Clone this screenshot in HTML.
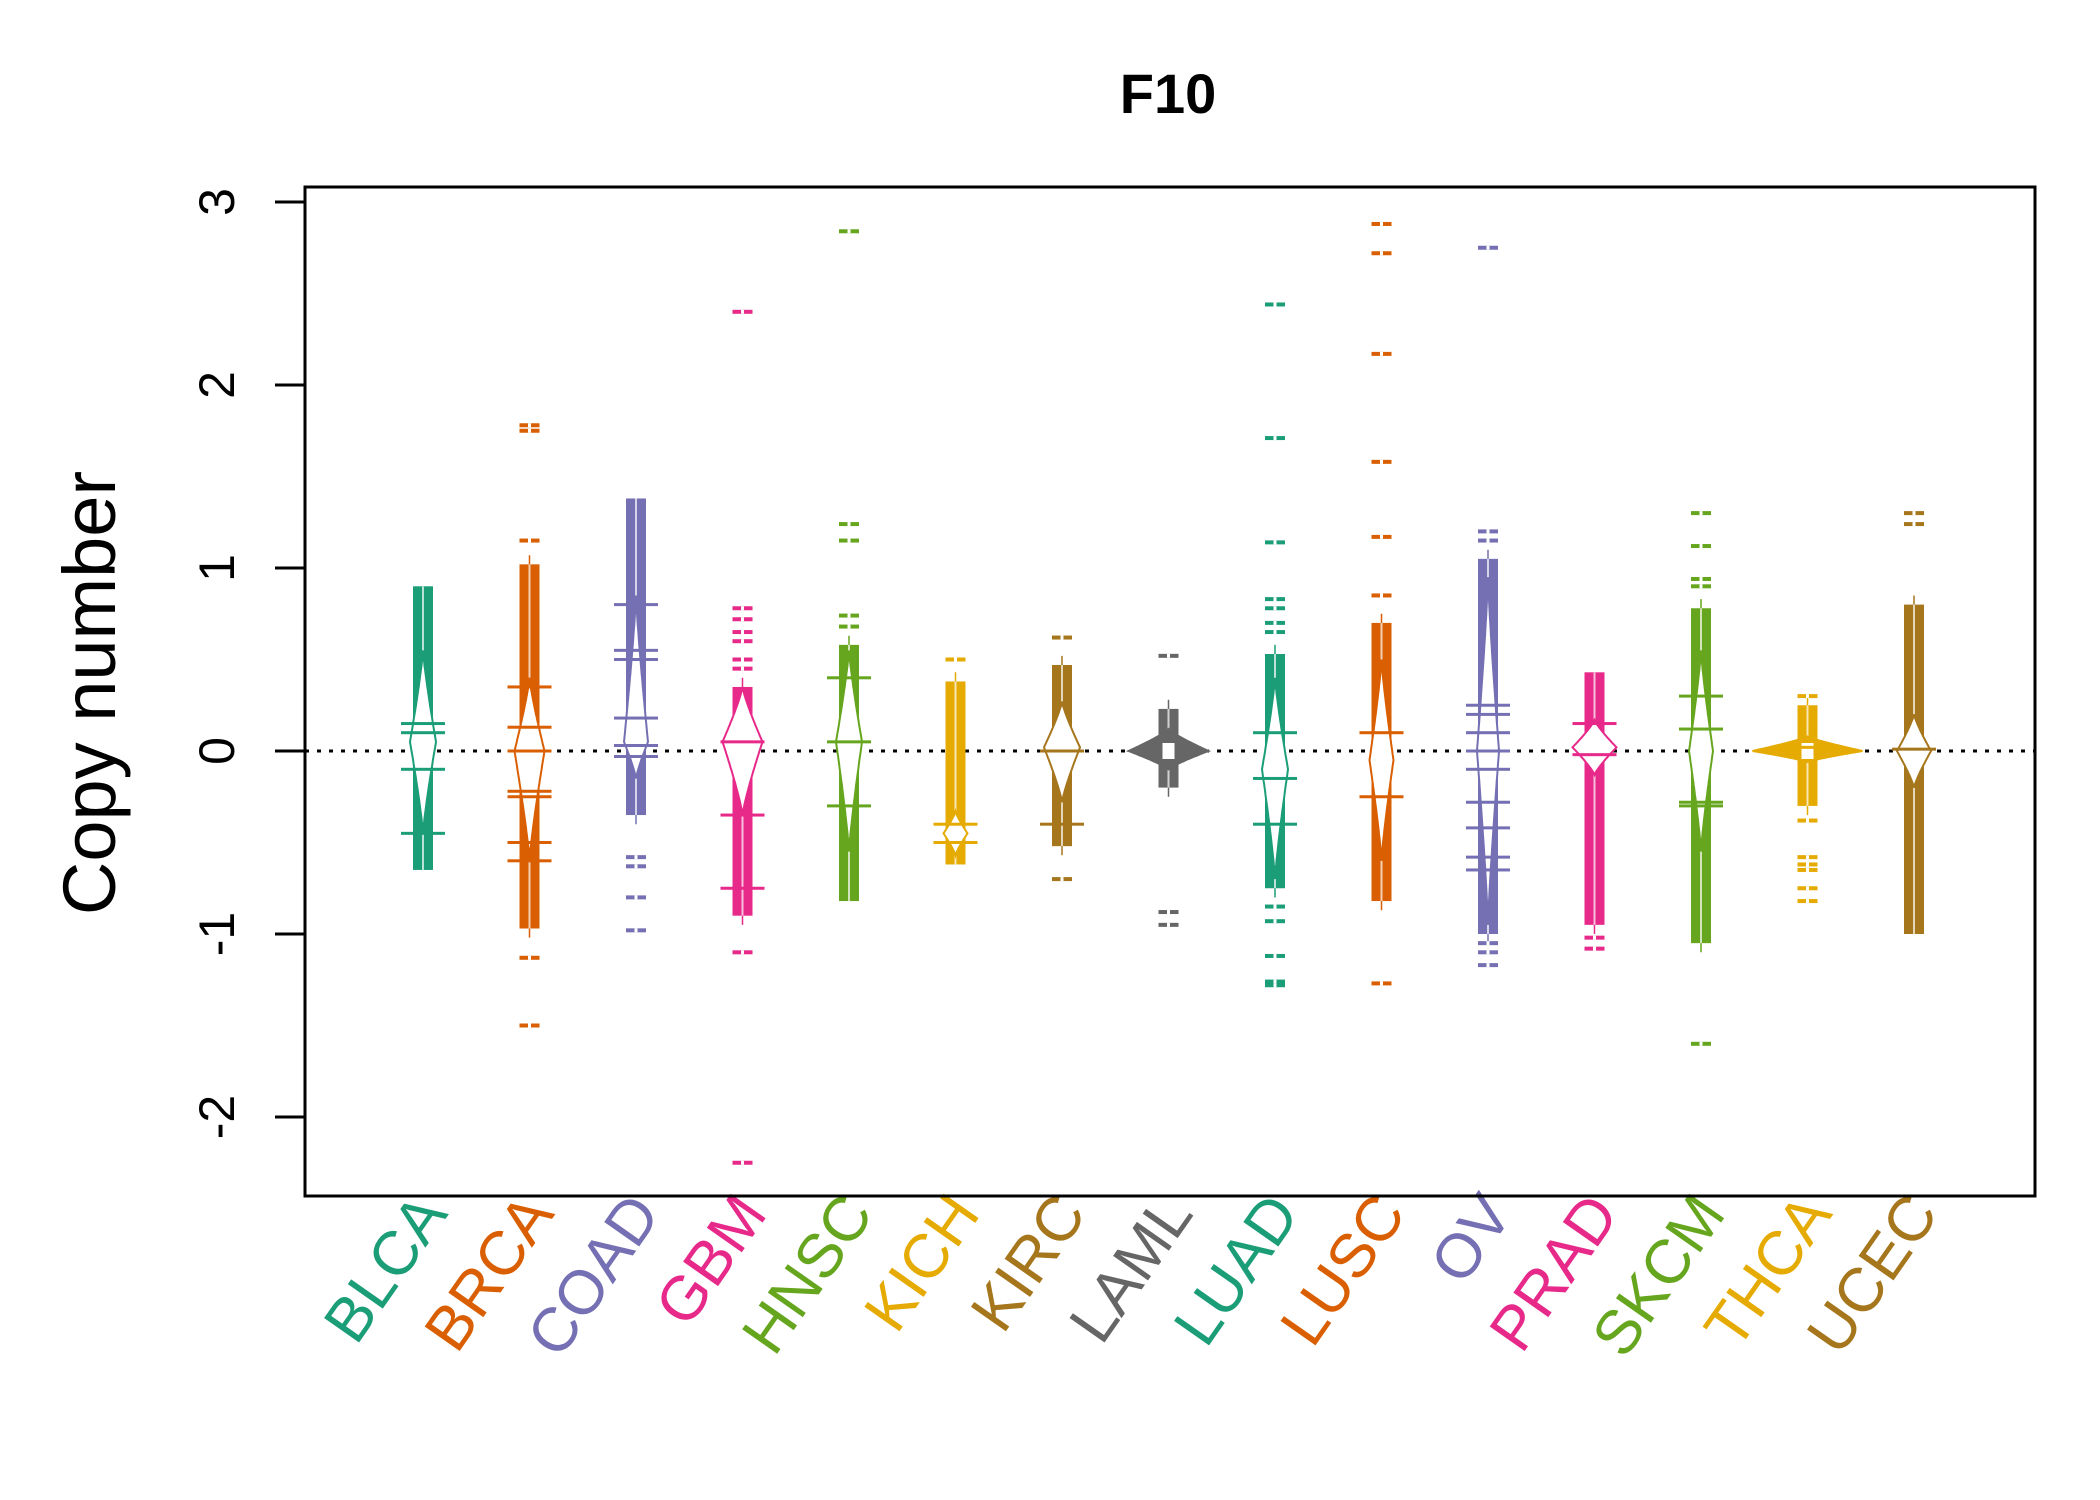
<!DOCTYPE html>
<html><head><meta charset="utf-8">
<style>
html,body{margin:0;padding:0;background:#fff;}
svg{display:block;font-family:"Liberation Sans",sans-serif;}
</style></head>
<body>
<svg id="chart" width="2100" height="1500" viewBox="0 0 2100 1500" xmlns="http://www.w3.org/2000/svg">
<rect x="0" y="0" width="2100" height="1500" fill="#fff"/>
<text x="1168" y="113" font-size="56" font-weight="bold" text-anchor="middle">F10</text>
<text transform="translate(115,693) rotate(-90)" font-size="74" text-anchor="middle">Copy number</text>
<g id="ticks"></g>
<line x1="305" x2="2035" y1="751" y2="751" stroke="#000" stroke-width="3" stroke-dasharray="4,8"/>
<g id="beans"></g>
<g id="xlabels"></g>
<rect x="305" y="187" width="1730" height="1009" fill="none" stroke="#000" stroke-width="3"/>
</svg>
<script>
const cats = ["BLCA","BRCA","COAD","GBM","HNSC","KICH","KIRC","LAML","LUAD","LUSC","OV","PRAD","SKCM","THCA","UCEC"];
const colors = ["#1B9E77","#D95F02","#7570B3","#E7298A","#66A61E","#E6AB02","#A6761D","#666666","#1B9E77","#D95F02","#7570B3","#E7298A","#66A61E","#E6AB02","#A6761D"];
const colHi = [0.9,1.02,1.38,0.35,0.58,0.38,0.47,0.23,0.53,0.7,1.05,0.43,0.78,0.25,0.8];
const colLo = [-0.65,-0.97,-0.35,-0.9,-0.82,-0.62,-0.52,-0.2,-0.75,-0.82,-1.0,-0.95,-1.05,-0.3,-1.0];
const outliers = [[],[1.78,1.75,1.15,-1.13,-1.5],[-0.58,-0.63,-0.8,-0.98],[2.4,0.78,0.72,0.65,0.6,0.5,0.45,-1.1,-2.25],[2.84,1.24,1.15,0.74,0.68],[0.5],[0.62,-0.7],[0.52,-0.88,-0.95],[2.44,1.71,1.14,0.83,0.78,0.7,0.65,-0.85,-0.93,-1.12,-1.26,-1.28],[2.88,2.72,2.17,1.58,1.17,0.85,-1.27],[2.75,1.2,1.15,-1.05,-1.1,-1.17],[-1.02,-1.08],[1.3,1.12,0.94,0.9,-1.6],[0.3,-0.38,-0.58,-0.62,-0.65,-0.75,-0.82],[1.3,1.24]];
const wideLines = [[0.15,0.1,-0.1,-0.45],[0.35,0.13,0,-0.22,-0.25,-0.5,-0.6],[0.8,0.55,0.5,0.18,0.03,-0.03],[0.05,-0.35,-0.75],[0.4,0.05,-0.3],[-0.4,-0.5],[0,-0.4],[],[0.1,-0.15,-0.4],[0.1,-0.25],[0.25,0.2,0.1,0,-0.1,-0.28,-0.42,-0.58,-0.65],[0.15,-0.02],[0.3,0.12,-0.28,-0.3],[0.02],[0.01]];
const lensC = [0.05,0,0.05,0.05,0.05,-0.45,0.02,0,-0.1,-0.05,0,0.02,0,0,0];
const lensUp = [0.5,0.4,0.8,0.3,0.5,0.12,0.25,0.12,0.5,0.55,0.95,0.15,0.55,0.08,0.2];
const lensDown = [0.5,0.6,0.2,0.4,0.6,0.12,0.3,0.1,0.6,0.55,0.95,0.15,0.55,0.06,0.2];
const lensW = [13,15,12,20,13,12,18,40,13,12,11,22,12,55,17];
const lensFilled = [false,false,false,false,false,false,false,true,false,false,false,false,false,true,false];
const yTicks = [-2,-1,0,1,2,3];

const NS = "http://www.w3.org/2000/svg";
function Y(v){ return 751 - 183*v; }
function X(i){ return 423 + 106.5*i; }
function mk(tag, attrs, parent){
  const e = document.createElementNS(NS, tag);
  for (const k in attrs) e.setAttribute(k, attrs[k]);
  parent.appendChild(e);
  return e;
}
const ticks = document.getElementById('ticks');
yTicks.forEach(t=>{
  const l = mk('line',{x1:275,x2:305,y1:Y(t),y2:Y(t),stroke:'#000','stroke-width':3},ticks);
  
  
  const tx = mk('text',{transform:`translate(234,${Y(t)}) rotate(-90)`,'font-size':50,'text-anchor':'middle'},ticks);
  
  
  tx.textContent = t;
});
const beans = document.getElementById('beans');
function dash(g, cx, v, hw, col, h){
  const r = mk('rect',{x:cx-hw,y:Y(v)-h/2,width:hw*2,height:h,fill:col},g);
  
  
  mk('rect',{x:cx-1.5,y:Y(v)-h/2,width:3,height:h,fill:'#fff'},g);
}
cats.forEach((c,i)=>{
  const cx = X(i), col = colors[i];
  const g = mk('g',{},beans);
  
  
  const allV = [colHi[i],colLo[i]].concat(outliers[i]);
  const vmax = Math.max(...allV), vmin = Math.min(...allV);
  mk('line',{x1:cx,x2:cx,y1:Y(Math.min(vmax,colHi[i]+0.05)),y2:Y(Math.max(vmin,colLo[i]-0.05)),stroke:col,'stroke-width':1.5},g);
  const colR = mk('rect',{x:cx-10,y:Y(colHi[i]),width:20,height:Y(colLo[i])-Y(colHi[i]),fill:col},g);
  
  
  mk('rect',{x:cx-1,y:Y(colHi[i]),width:2,height:Y(colLo[i])-Y(colHi[i]),fill:'#fff',opacity:0.7},g);
  const pts = [];
  const N = 30;
  for (let k=0;k<=N;k++){ const t=k/N; const y=lensC[i]+lensUp[i]*(1-t); const w=lensW[i]*Math.pow(t,1.2); pts.push([cx+w,Y(y)]); }
  for (let k=N;k>=0;k--){ const t=k/N; const y=lensC[i]-lensDown[i]*(1-t); const w=lensW[i]*Math.pow(t,1.2); pts.push([cx+w,Y(y)]); }
  for (let k=0;k<=N;k++){ const t=k/N; const y=lensC[i]-lensDown[i]*(1-t); const w=lensW[i]*Math.pow(t,1.2); pts.push([cx-w,Y(y)]); }
  for (let k=N;k>=0;k--){ const t=k/N; const y=lensC[i]+lensUp[i]*(1-t); const w=lensW[i]*Math.pow(t,1.2); pts.push([cx-w,Y(y)]); }
  const lens = mk('polygon',{points:pts.map(p=>p[0].toFixed(1)+','+p[1].toFixed(1)).join(' '),fill:lensFilled[i]?col:'#fff',stroke:col,'stroke-width':2},g);
  
  
  if (lensFilled[i]) mk('rect',{x:cx-6,y:Y(lensC[i])-8,width:12,height:16,fill:'#fff'},g);
  wideLines[i].forEach(v=>{
    const w = mk('rect',{x:cx-22,y:Y(v)-1.5,width:44,height:3,fill:col},g);
    
    
  });
  outliers[i].forEach(v=>dash(g,cx,v,10,col,4));
  const lx = cx+26, ly = 1214;
  const t = mk('text',{transform:`translate(${lx},${ly}) rotate(-55)`,'font-size':62,'text-anchor':'end',fill:col},document.getElementById('xlabels'));
  
  
  t.textContent = c;
});
</script>
</body></html>
